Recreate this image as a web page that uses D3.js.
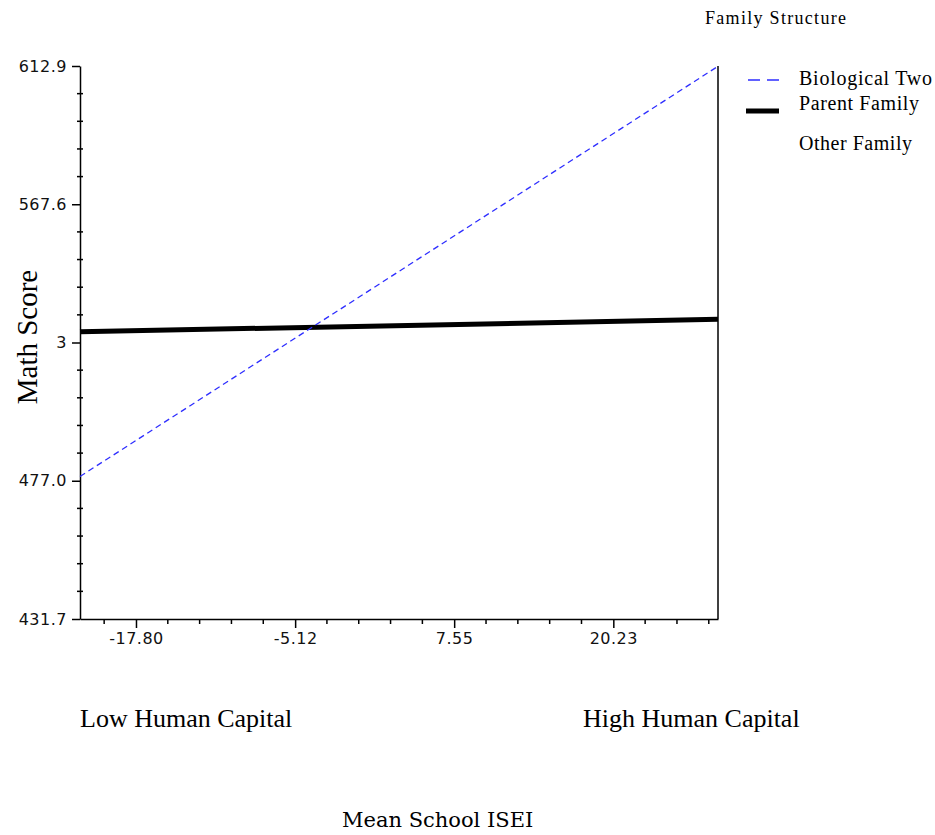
<!DOCTYPE html>
<html>
<head>
<meta charset="utf-8">
<script src="https://cdn.jsdelivr.net/npm/d3@7"></script>
<style>
  body { margin: 0; background: #fff; }
  svg { display: block; }
</style>
</head>
<body>
<script>
// Math score by mean school ISEI, for two family structures

// x axis ticks (Mean School ISEI)
const xTicks = [-17.80, -5.12, 7.55, 20.23];
const xTickLabels = ["-17.80", "-5.12", "7.55", "20.23"];
const xDomain = [-22.26, 28.57];

// y axis ticks (Math Score)
const yTicks = [431.7, 477.0, 522.3, 567.6, 612.9];
const yTickLabels = ["431.7", "477.0", "3", "567.6", "612.9"];

// series: value at the left and right ends of the x range
const familyNames = ["Biological Two Parent Family", "Other Family"];
const bioValues = [478.4, 612.8];
const otherValues = [525.8, 529.9];

const width = 935, height = 835;
const margin = {top: 66, right: 217, bottom: 216, left: 80};

const svg = d3.select("body").append("svg")
  .attr("width", width)
  .attr("height", height);

const x = d3.scaleLinear().domain(xDomain).range([margin.left, width - margin.right]);
const y = d3.scaleLinear().domain([431.7, 612.9]).range([height - margin.bottom, margin.top]);

// right border
svg.append("line")
  .attr("x1", x(xDomain[1])).attr("x2", x(xDomain[1]))
  .attr("y1", y(612.9)).attr("y2", y(431.7))
  .attr("stroke", "#000").attr("stroke-width", 1.5);

// minor ticks, 5 per major step
const xStep = (xTicks[3] - xTicks[0]) / 3 / 5;
const xMinor = d3.range(-10, 30)
  .filter(i => i % 5 !== 0)
  .map(i => xTicks[0] + i * xStep)
  .filter(v => v > xDomain[0] && v < xDomain[1]);
const yStep = (612.9 - 431.7) / 4 / 5;
const yMinor = d3.range(1, 20).filter(i => i % 5 !== 0).map(i => 431.7 + i * yStep);

const tickFont = "'DejaVu Sans', sans-serif";

// x axis
const xAxis = svg.append("g")
  .attr("transform", `translate(0,${y(431.7)})`)
  .call(d3.axisBottom(x).tickValues(xTicks)
    .tickFormat((d, i) => xTickLabels[i])
    .tickSize(9).tickSizeOuter(0).tickPadding(5));
xAxis.select(".domain").attr("stroke-width", 1.5);
xAxis.selectAll(".tick line").attr("stroke-width", 1.5);
xAxis.selectAll("text")
  .style("font-family", tickFont).style("font-size", "16px")
  .style("letter-spacing", "0.5px").attr("fill", "#111");

xAxis.selectAll(".minor")
  .data(xMinor).enter().append("line")
  .attr("class", "minor")
  .attr("x1", d => x(d)).attr("x2", d => x(d))
  .attr("y1", 0).attr("y2", 5)
  .attr("stroke", "#000").attr("stroke-width", 1.5);

// y axis
const yAxis = svg.append("g")
  .attr("transform", `translate(${x(xDomain[0])},0)`)
  .call(d3.axisLeft(y).tickValues(yTicks)
    .tickFormat((d, i) => yTickLabels[i])
    .tickSize(8).tickSizeOuter(0).tickPadding(5));
yAxis.select(".domain").attr("stroke-width", 1.5);
yAxis.selectAll(".tick line").attr("stroke-width", 1.5);
yAxis.selectAll("text")
  .style("font-family", tickFont).style("font-size", "16px")
  .style("letter-spacing", "0.5px").attr("fill", "#111");

yAxis.selectAll(".minor")
  .data(yMinor).enter().append("line")
  .attr("class", "minor")
  .attr("x1", -3).attr("x2", 3)
  .attr("y1", d => y(d)).attr("y2", d => y(d))
  .attr("stroke", "#000").attr("stroke-width", 1.5);

// lines
const line = d3.line().x(d => x(d[0])).y(d => y(d[1]));

svg.append("path")
  .datum([[xDomain[0], otherValues[0]], [xDomain[1], otherValues[1]]])
  .attr("d", line)
  .attr("fill", "none")
  .attr("stroke", "#000")
  .attr("stroke-width", 5);

svg.append("path")
  .datum([[xDomain[0], bioValues[0]], [xDomain[1], bioValues[1]]])
  .attr("d", line)
  .attr("fill", "none")
  .attr("stroke", "#2e2eff")
  .attr("stroke-width", 1.3)
  .attr("stroke-dasharray", "6,4");

// legend
const serif = "'Liberation Serif', 'Times New Roman', serif";
const legend = svg.append("g");

legend.append("text")
  .attr("x", 705).attr("y", 24)
  .attr("textLength", 141).attr("lengthAdjust", "spacing")
  .style("font-family", serif).style("font-size", "18px")
  .text("Family Structure");

legend.append("line")
  .attr("x1", 748).attr("x2", 780).attr("y1", 80).attr("y2", 80)
  .attr("stroke", "#2e2eff").attr("stroke-width", 1.5)
  .attr("stroke-dasharray", "12,7");

legend.append("line")
  .attr("x1", 746).attr("x2", 779).attr("y1", 111).attr("y2", 111)
  .attr("stroke", "#000").attr("stroke-width", 5);

const legendRows = [
  {text: "Biological Two", y: 85, w: 133},
  {text: "Parent Family", y: 110, w: 120},
  {text: "Other Family", y: 150, w: 113}
];
legend.selectAll(".item")
  .data(legendRows).enter().append("text")
  .attr("class", "item")
  .attr("x", 799).attr("y", d => d.y)
  .attr("textLength", d => d.w).attr("lengthAdjust", "spacing")
  .style("font-family", serif).style("font-size", "20px")
  .text(d => d.text);

// axis titles
svg.append("text")
  .attr("transform", `translate(37,${337}) rotate(-90)`)
  .attr("text-anchor", "middle")
  .style("font-family", serif).style("font-size", "29px")
  .text("Math Score");

svg.append("text")
  .attr("x", 80).attr("y", 727)
  .style("font-family", serif).style("font-size", "26px")
  .text("Low Human Capital");

svg.append("text")
  .attr("x", 583).attr("y", 727)
  .style("font-family", serif).style("font-size", "26px")
  .text("High Human Capital");

svg.append("text")
  .attr("x", 342).attr("y", 827)
  .style("font-family", "'DejaVu Serif', serif").style("font-size", "21px")
  .text("Mean School ISEI");
</script>
</body>
</html>
